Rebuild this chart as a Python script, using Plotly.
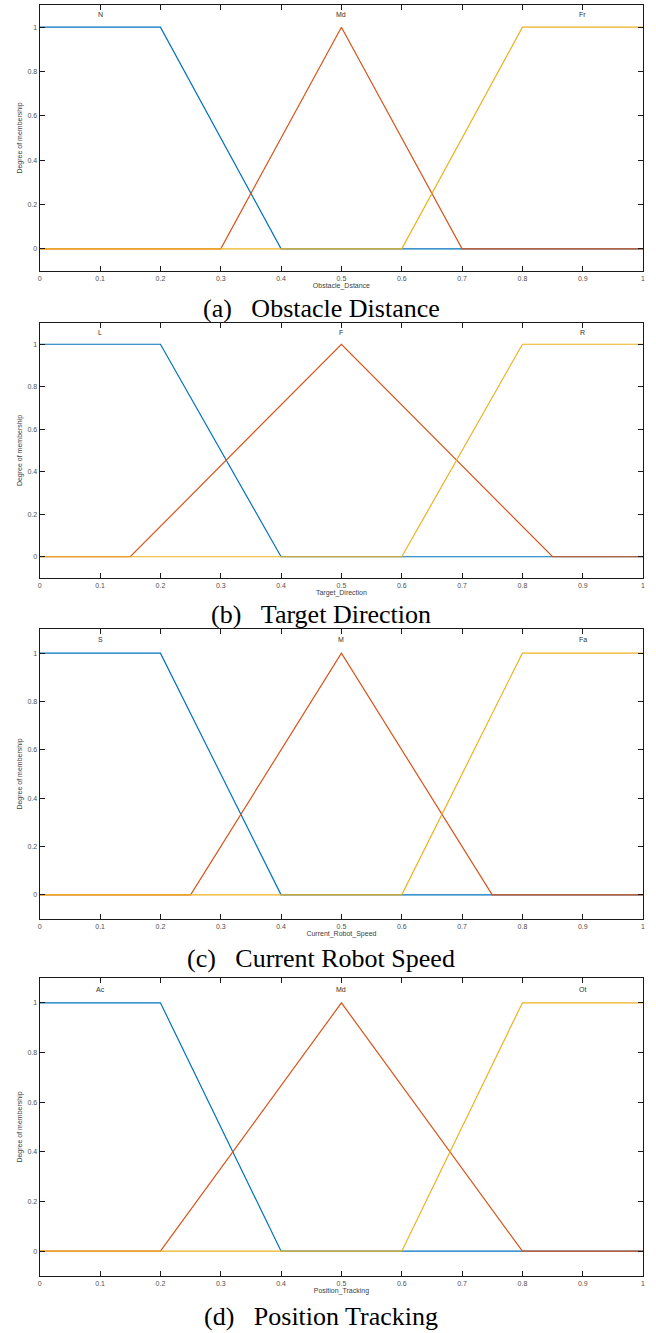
import plotly.graph_objects as go

W, H = 656, 1333

# ---- data: membership function breakpoints ----
mf_x_low = [0, 0.2, 0.4, 1]
mf_y_low = [1, 1, 0, 0]
mf_x_high = [0, 0.6, 0.8, 1]
mf_y_high = [0, 0, 1, 1]

obst_mid_x = [0, 0.3, 0.5, 0.7, 1]
obst_mid_y = [0, 0, 1, 0, 0]
targ_mid_x = [0, 0.15, 0.5, 0.85, 1]
targ_mid_y = [0, 0, 1, 0, 0]
speed_mid_x = [0, 0.25, 0.5, 0.75, 1]
speed_mid_y = [0, 0, 1, 0, 0]
pos_mid_x = [0, 0.2, 0.5, 0.8, 1]
pos_mid_y = [0, 0, 1, 0, 0]

obst_labels = ["N", "Md", "Fr"]
targ_labels = ["L", "F", "R"]
speed_labels = ["S", "M", "Fa"]
pos_labels = ["Ac", "Md", "Ot"]
label_x = [0.1, 0.5, 0.9]

x_titles = ["Obstacle_Dstance", "Target_Direction", "Current_Robot_Speed", "Position_Tracking"]
captions = ["(a)\u00a0\u00a0\u00a0Obstacle Distance", "(b)\u00a0\u00a0\u00a0Target Direction",
            "(c)\u00a0\u00a0\u00a0Current Robot Speed", "(d)\u00a0\u00a0\u00a0Position Tracking"]
x_ticks = [0, 0.1, 0.2, 0.3, 0.4, 0.5, 0.6, 0.7, 0.8, 0.9, 1]
x_ticktext = ["0", "0.1", "0.2", "0.3", "0.4", "0.5", "0.6", "0.7", "0.8", "0.9", "1"]
y_ticks = [0, 0.2, 0.4, 0.6, 0.8, 1]
y_ticktext = ["0", "0.2", "0.4", "0.6", "0.8", "1"]

panels = [
    (obst_mid_x, obst_mid_y, obst_labels),
    (targ_mid_x, targ_mid_y, targ_labels),
    (speed_mid_x, speed_mid_y, speed_labels),
    (pos_mid_x, pos_mid_y, pos_labels),
]

# pixel layout (top, bottom) of each axes box
boxes = [(5, 271), (323, 578), (629, 919), (978, 1276)]
caption_y = [308, 614, 958, 1316]
x_left, x_right = 38, 645

c_blue, c_orange, c_yellow = "#0072BD", "#D95319", "#EDB120"

fig = go.Figure()
tickfont = dict(family="Liberation Sans, Arial", size=7, color="#505050")

for i, (mx, my, labels) in enumerate(panels):
    n = i + 1
    xa = "x" if n == 1 else f"x{n}"
    ya = "y" if n == 1 else f"y{n}"
    for xs, ys, col in [(mf_x_low, mf_y_low, c_blue), (mx, my, c_orange), (mf_x_high, mf_y_high, c_yellow)]:
        fig.add_trace(go.Scatter(x=xs, y=ys, mode="lines", line=dict(color=col, width=1.2),
                                 xaxis=xa, yaxis=ya, showlegend=False, hoverinfo="skip"))
    top, bot = boxes[i]
    dom_y = [1 - bot / H, 1 - top / H]
    axis_common = dict(showgrid=False, zeroline=False, showline=True, linecolor="#1a1a1a",
                       linewidth=1.3, mirror="allticks", ticks="inside", ticklen=5,
                       tickcolor="#1a1a1a", tickwidth=1, tickfont=tickfont)
    fig.layout[f"xaxis{'' if n == 1 else n}"] = dict(
        domain=[x_left / W, x_right / W], range=[0, 1], anchor=ya,
        tickvals=x_ticks, ticktext=x_ticktext,
        title=dict(text=x_titles[i], font=dict(family="Liberation Sans, Arial", size=7, color="#404040"), standoff=1),
        **axis_common)
    fig.layout[f"yaxis{'' if n == 1 else n}"] = dict(
        domain=dom_y, range=[-0.1, 1.1], anchor=xa,
        tickvals=y_ticks, ticktext=y_ticktext,
        title=dict(text="Degree of membership", font=dict(family="Liberation Sans, Arial", size=7, color="#404040"), standoff=4),
        **axis_common)
    for lx, lt in zip(label_x, labels):
        fig.add_annotation(x=lx, y=1.055, xref=xa, yref=ya, text=lt, showarrow=False,
                           font=dict(family="Liberation Sans, Arial", size=7, color="#303030"))
    fig.add_annotation(x=321 / W, y=1 - caption_y[i] / H, xref="paper", yref="paper",
                       text=captions[i], showarrow=False, xanchor="center", yanchor="middle",
                       font=dict(family="Liberation Serif, Times New Roman, serif", size=26, color="black"))

fig.update_layout(width=W, height=H, margin=dict(l=0, r=0, t=0, b=0),
                  paper_bgcolor="white", plot_bgcolor="white")
fig.write_html("out.html")
